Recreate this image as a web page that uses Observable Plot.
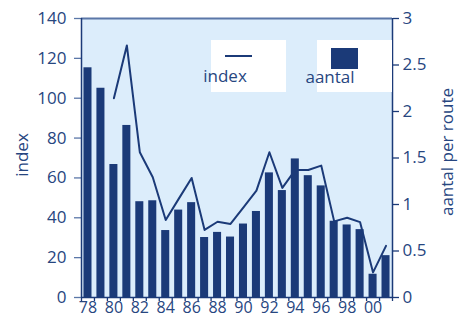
<!DOCTYPE html>
<html>
<head>
<meta charset="utf-8">
<script src="https://cdn.jsdelivr.net/npm/d3@7"></script>
<script src="https://cdn.jsdelivr.net/npm/@observablehq/plot@0.6"></script>
<style>
  html, body { margin: 0; padding: 0; background: #ffffff; }
  #chart { position: relative; width: 461px; height: 318px; }
</style>
</head>
<body>
<div id="chart"></div>
<script>
// ---- data ----
const years = [1978,1979,1980,1981,1982,1983,1984,1985,1986,1987,1988,1989,1990,1991,1992,1993,1994,1995,1996,1997,1998,1999,2000,2001];
const aantal = [2.47,2.25,1.43,1.85,1.03,1.04,0.72,0.94,1.02,0.645,0.70,0.65,0.79,0.925,1.34,1.15,1.49,1.31,1.20,0.82,0.78,0.73,0.25,0.45];
const indexYears = [1980,1981,1982,1983,1984,1985,1986,1987,1988,1989,1990,1991,1992,1993,1994,1995,1996,1997,1998,1999,2000,2001];
const indexValues = [100,126.5,72.9,60.3,38.9,49.5,60,33.9,38,36.9,45.2,53.6,72.9,55,64,64,66.2,38.2,40,37.8,12.6,25.9];
const leftTicks = [0,20,40,60,80,100,120,140];
const rightTicks = [0,0.5,1,1.5,2,2.5,3];
const rightTickLabels = ["0","0.5","1","1.5","2","2.5","3"];
const xLabelYears = [1978,1980,1982,1984,1986,1988,1990,1992,1994,1996,1998,2000];
const xLabels = ["78","80","82","84","86","88","90","92","94","96","98","00"];
const leftTitle = "index";
const rightTitle = "aantal per route";
const legendLine = "index";
const legendBar = "aantal";

// ---- styles ----
const dark = "#1b3a78";
const textColor = "#27467f";
const tickColor = "#5b77a8";
const bg = "#dcedfb";
const font = "'Open Sans', sans-serif";
const fs = "17px";

const k = 140 / 3; // right axis -> left axis units
const bars = years.map((year, i) => ({year, value: aantal[i] * k}));
const line = indexYears.map((year, i) => ({year, value: indexValues[i]}));
const bounds = years.map(y => y - 0.5).concat([years[years.length - 1] + 0.5]);
const half = 0.31;

const plot = Plot.plot({
  width: 461,
  height: 318,
  marginLeft: 81,
  marginRight: 69,
  marginTop: 18,
  marginBottom: 21,
  x: {type: "linear", domain: [bounds[0], bounds[bounds.length - 1]]},
  y: {domain: [0, 140]},
  style: {fontFamily: font, fontSize: fs, color: textColor, background: "#ffffff", overflow: "visible"},
  marks: [
    Plot.frame({fill: bg, stroke: null}),
    Plot.rectY(bars, {x1: d => d.year - half, x2: d => d.year + half, y: "value", fill: dark}),
    Plot.line(line, {x: "year", y: "value", stroke: dark, strokeWidth: 2}),
    Plot.ruleY([140], {stroke: tickColor, strokeWidth: 2}),
    Plot.axisY({ticks: leftTicks, tickSize: 7, tickPadding: 8, stroke: tickColor, label: null, fill: textColor, strokeWidth: 1.3}),
    Plot.axisY({anchor: "right", ticks: rightTicks.map(v => v * k), tickFormat: (d, i) => rightTickLabels[i], tickSize: 6, tickPadding: 4, stroke: dark, label: null, fill: textColor, strokeWidth: 1.3}),
    Plot.axisX({ticks: bounds, tickFormat: () => "", tickSize: 4, stroke: dark, label: null, strokeWidth: 1.3}),
    Plot.axisX({ticks: xLabelYears, tickFormat: (d, i) => xLabels[i], tickSize: 0, tickPadding: 4.5, label: null, fill: textColor, fontSize: 16}),
    Plot.ruleX([bounds[0]], {stroke: dark, strokeWidth: 1.5}),
    Plot.ruleX([bounds[bounds.length - 1]], {stroke: dark, strokeWidth: 1.5}),
    Plot.ruleY([0], {stroke: dark, strokeWidth: 1.5})
  ]
});

document.getElementById("chart").appendChild(plot);

// ---- axis titles and legend ----
const svg = d3.select(plot);
svg.append("text")
  .attr("transform", "translate(23,155) rotate(-90)")
  .attr("text-anchor", "middle").attr("dominant-baseline", "middle")
  .attr("fill", textColor).style("font-family", font).style("font-size", fs)
  .text(leftTitle);
svg.append("text")
  .attr("transform", "translate(448,152) rotate(-90)")
  .attr("text-anchor", "middle").attr("dominant-baseline", "middle")
  .attr("fill", textColor).style("font-family", font).style("font-size", fs)
  .text(rightTitle);

const lg1 = svg.append("g");
lg1.append("rect").attr("x", 211).attr("y", 40).attr("width", 75).attr("height", 52).attr("fill", "#ffffff");
lg1.append("line").attr("x1", 225).attr("x2", 252).attr("y1", 56).attr("y2", 56).attr("stroke", dark).attr("stroke-width", 2);
lg1.append("text").attr("x", 225).attr("y", 82).attr("fill", textColor)
  .style("font-family", font).style("font-size", fs).text(legendLine);

const lg2 = svg.append("g");
lg2.append("rect").attr("x", 317).attr("y", 40).attr("width", 75).attr("height", 52).attr("fill", "#ffffff");
lg2.append("rect").attr("x", 331).attr("y", 48).attr("width", 27).attr("height", 21).attr("fill", dark);
lg2.append("text").attr("x", 330).attr("y", 83).attr("fill", textColor)
  .style("font-family", font).style("font-size", fs).text(legendBar);
</script>
</body>
</html>
